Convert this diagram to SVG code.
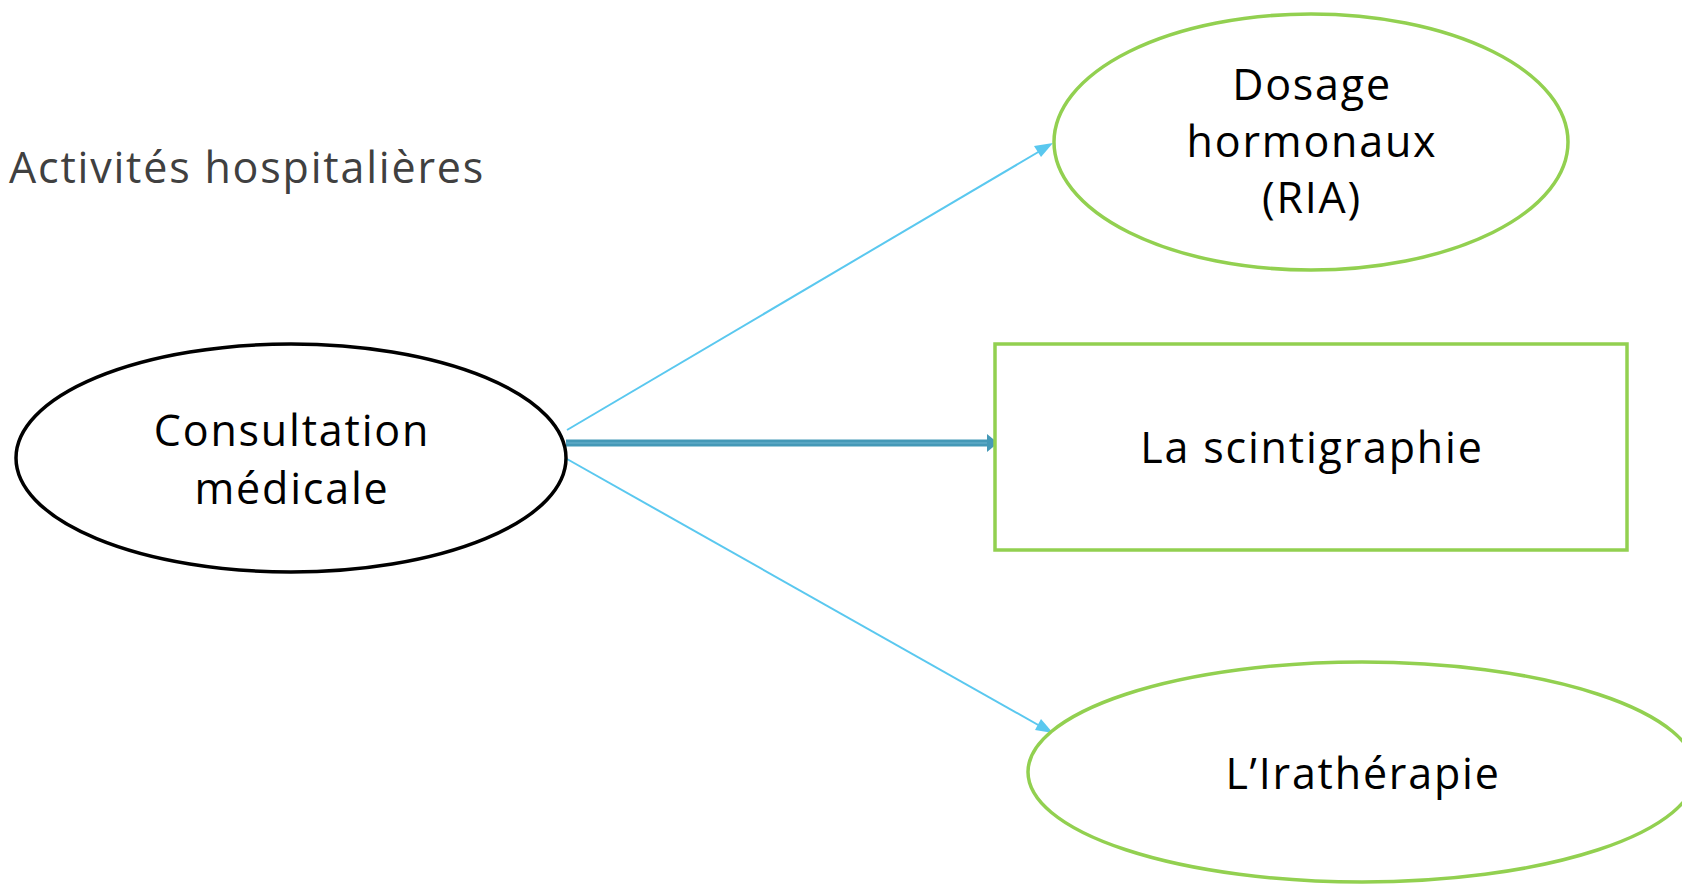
<svg xmlns="http://www.w3.org/2000/svg" width="1682" height="884" viewBox="0 0 1682 884">
  <style>
    text { font-family: "Open Sans", Lato, "Liberation Sans", sans-serif; font-variant-ligatures: none; letter-spacing: 1.8px; }
    .lbl { font-size: 43px; fill: #000; text-anchor: middle; }
    .green { fill: #fff; stroke: #92d050; stroke-width: 3.5; }
    .thin { stroke: #5ac8ef; stroke-width: 2; fill: none; }
  </style>
  <rect width="1682" height="884" fill="#fff"/>
  <text x="9" y="183" font-size="43" fill="#404040">Activités hospitalières</text>

  <g id="connectors">
    <path class="thin" d="M567,430 L1040,151"/>
    <path d="M1053,143 L1034,146 L1041,157 Z" fill="#5ac8ef"/>
    <path class="thin" d="M567,459 L1040,726"/>
    <path d="M1053,733 L1041,719 L1035,730 Z" fill="#5ac8ef"/>
    <line x1="566" y1="443" x2="988" y2="443" stroke="#4599b7" stroke-width="7"/>
    <line x1="566" y1="443" x2="988" y2="443" stroke="#6cb3cf" stroke-width="1.2"/>
    <path d="M987,434 L998,443 L987,452 Z" fill="#4599b7"/>
  </g>

  <g id="consultation">
    <ellipse cx="291" cy="458" rx="275" ry="114" fill="#fff" stroke="#000" stroke-width="3.5"/>
    <text class="lbl" x="292" y="446">Consultation</text>
    <text class="lbl" x="292" y="504">médicale</text>
  </g>

  <g id="dosage">
    <ellipse class="green" cx="1311" cy="142" rx="257" ry="128"/>
    <text class="lbl" x="1312" y="100">Dosage</text>
    <text class="lbl" x="1312" y="157">hormonaux</text>
    <text class="lbl" x="1312" y="213">(RIA)</text>
  </g>

  <g id="scintigraphie">
    <rect class="green" x="995" y="344" width="632" height="206"/>
    <text class="lbl" x="1312" y="463">La scintigraphie</text>
  </g>

  <g id="irath">
    <ellipse class="green" cx="1362" cy="772" rx="334" ry="110"/>
    <text class="lbl" x="1363" y="789">L’Irathérapie</text>
  </g>
</svg>
